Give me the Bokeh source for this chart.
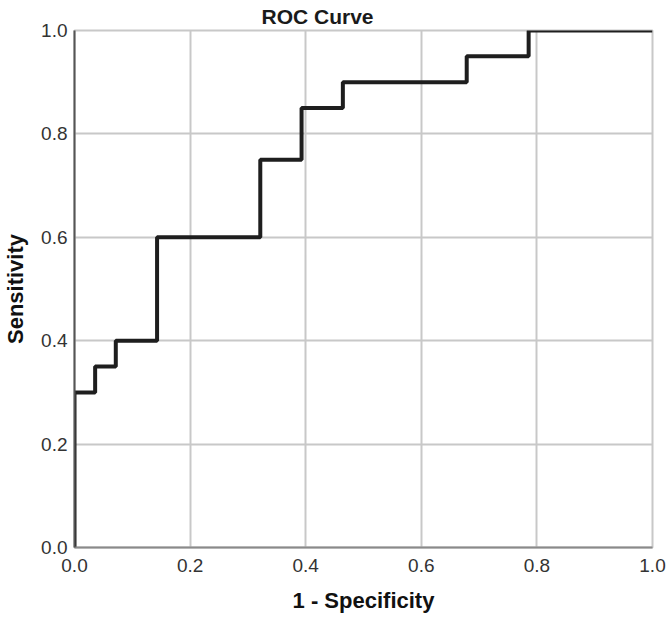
from bokeh.plotting import figure
from bokeh.models import Range1d, FixedTicker, PrintfTickFormatter
from bokeh.embed import file_html
from bokeh.resources import INLINE

# ROC curve points (1 - specificity, sensitivity)
fpr = [0.0, 0.0, 1/28, 2/28, 4/28, 9/28, 11/28, 13/28, 19/28, 22/28, 1.0]
tpr = [0.0, 0.30, 0.35, 0.40, 0.60, 0.75, 0.85, 0.90, 0.95, 1.00, 1.00]
ticks = [0.0, 0.2, 0.4, 0.6, 0.8, 1.0]
title_text = "ROC Curve"
x_label = "1 - Specificity"
y_label = "Sensitivity"

FONT = "Liberation Sans"

p = figure(width=667, height=617, x_range=Range1d(0, 1), y_range=Range1d(0, 1),
           output_backend="svg", toolbar_location=None, title=title_text)
p.min_border_left = 73
p.min_border_right = 15
p.min_border_top = 29
p.min_border_bottom = 70
p.background_fill_color = "white"
p.border_fill_color = "white"
p.outline_line_color = "#c8c8c8"
p.outline_line_width = 2

p.title.align = "left"
p.title.offset = 187
p.title.standoff = 5
p.title.text_font = FONT
p.title.text_font_size = "21px"
p.title.text_font_style = "bold"
p.title.text_color = "#1a1a1a"

for ax in (p.xaxis, p.yaxis):
    ax.ticker = FixedTicker(ticks=ticks)
    ax.formatter = PrintfTickFormatter(format="%.1f")
    ax.major_tick_line_color = None
    ax.minor_tick_line_color = None
    ax.major_tick_out = 0
    ax.major_tick_in = 0
    ax.minor_tick_out = 0
    ax.major_label_text_font = FONT
    ax.major_label_text_font_size = "19px"
    ax.major_label_text_color = "#333333"
    ax.axis_label_text_font = FONT
    ax.axis_label_text_font_size = "22px"
    ax.axis_label_text_font_style = "bold"
    ax.axis_label_text_color = "#111111"

p.xaxis.axis_label = x_label
p.yaxis.axis_label = y_label
p.xaxis.axis_line_color = "#8a8a8a"
p.xaxis.axis_line_width = 2
p.yaxis.axis_line_color = "#555555"
p.yaxis.axis_line_width = 2
p.xaxis.major_label_standoff = 11
p.yaxis.major_label_standoff = 7
p.xaxis.axis_label_standoff = 13
p.yaxis.axis_label_standoff = 10

p.grid.grid_line_color = "#c8c8c8"
p.grid.grid_line_width = 2

p.step(fpr, tpr, mode="after", line_color="#1e1e1e", line_width=4)

open("out.html", "w").write(file_html(p, INLINE))
